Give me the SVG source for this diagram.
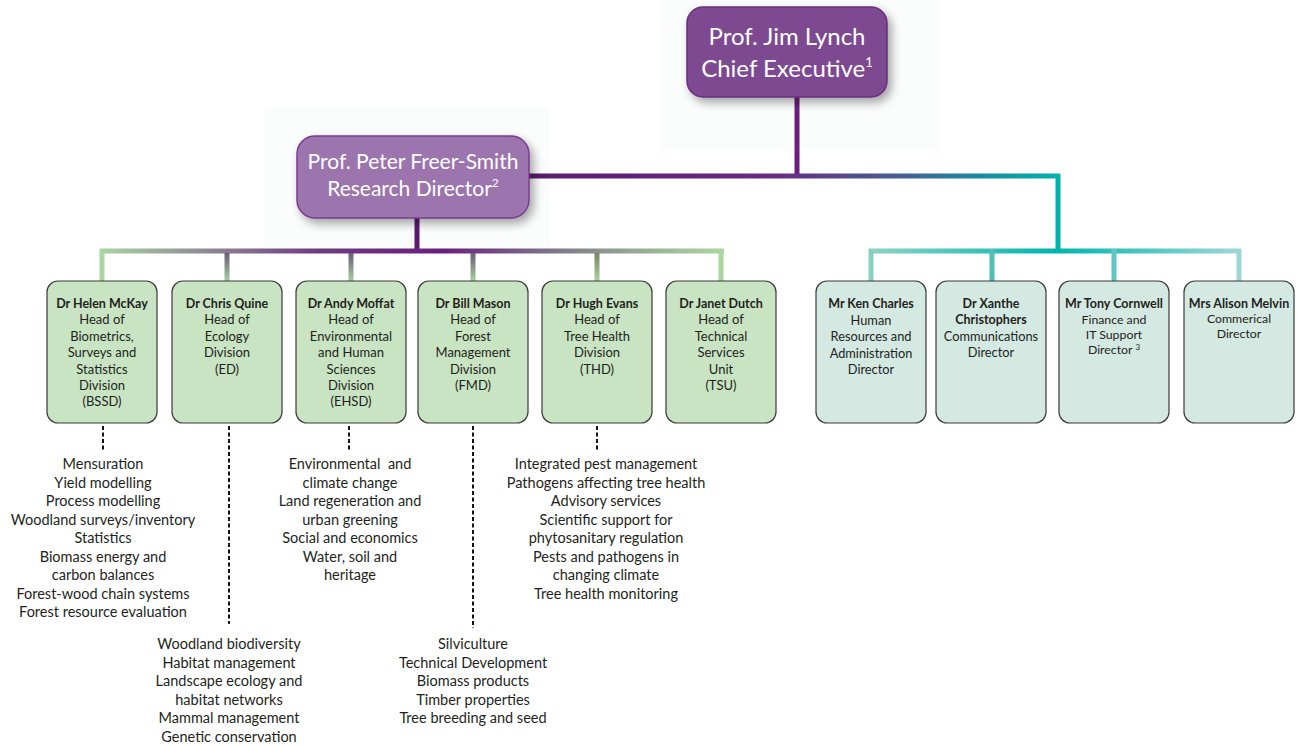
<svg xmlns="http://www.w3.org/2000/svg" width="1297" height="746" viewBox="0 0 1297 746">
<defs>
<style>
text{font-family:Lato,"Open Sans","Liberation Sans",sans-serif;text-anchor:middle;}
.exec{fill:#ffffff;font-size:24px;}
.rd{fill:#ffffff;font-size:21px;}
.gbox{fill:#c8e4c2;stroke:#3a3a3a;stroke-width:1.2;}
.tbox{fill:#d3e9e2;stroke:#3a3a3a;stroke-width:1.2;}
.nm{font-size:12.5px;font-weight:bold;fill:#231f20;}
.bt{font-size:13px;fill:#231f20;}
.st{font-size:12.8px;fill:#231f20;}
.sm{font-size:12.3px;fill:#231f20;}
.lst{font-size:14.5px;fill:#231f20;}
.dot{stroke:#111;stroke-width:2;stroke-dasharray:4 2.5;fill:none;}
.ln{stroke-width:5;fill:none;}
</style>
<filter id="sh" x="-20%" y="-20%" width="150%" height="160%">
<feDropShadow dx="4" dy="5" stdDeviation="5" flood-color="#000" flood-opacity="0.35"/>
</filter>
<linearGradient id="gTop" gradientUnits="userSpaceOnUse" x1="528" y1="0" x2="1060" y2="0">
<stop offset="0" stop-color="#5a1a6e"/><stop offset="0.45" stop-color="#6a2a82"/><stop offset="0.7" stop-color="#475f90"/><stop offset="0.85" stop-color="#1a8a9e"/><stop offset="1" stop-color="#00b3ab"/>
</linearGradient>
<linearGradient id="gGreen" gradientUnits="userSpaceOnUse" x1="100" y1="0" x2="724" y2="0">
<stop offset="0" stop-color="#a8d5a0"/><stop offset="0.2" stop-color="#8a7c92"/><stop offset="0.35" stop-color="#6e3a82"/><stop offset="0.55" stop-color="#6a1f7c"/><stop offset="0.7" stop-color="#7a6a88"/><stop offset="0.85" stop-color="#94a890"/><stop offset="1" stop-color="#abd6a0"/>
</linearGradient>
<linearGradient id="gTeal" gradientUnits="userSpaceOnUse" x1="869" y1="0" x2="1241" y2="0">
<stop offset="0" stop-color="#8fd3c5"/><stop offset="0.5" stop-color="#00b5ad"/><stop offset="1" stop-color="#a0d8d8"/>
</linearGradient>
<linearGradient id="dPurp" x1="0" y1="0" x2="0" y2="1">
<stop offset="0" stop-color="#6a5a78"/><stop offset="1" stop-color="#a8d5a0"/>
</linearGradient>
<linearGradient id="dOlive" x1="0" y1="0" x2="0" y2="1">
<stop offset="0" stop-color="#7a8560"/><stop offset="1" stop-color="#a8d5a0"/>
</linearGradient>
</defs>
<rect width="1297" height="746" fill="#ffffff"/>
<rect x="660" y="0" width="280" height="150" fill="#fbfcfc"/>
<rect x="265" y="107" width="285" height="140" fill="#fbfcfc"/>

<g id="connectors">
<path class="ln" d="M797 97 V177" stroke="#6a1f7f"/>
<path class="ln" d="M528 176 H1060" stroke="url(#gTop)"/>
<path class="ln" d="M1058 174 V252" stroke="#00b3ab"/>
<path class="ln" d="M417 218 V250" stroke="#5a1a6e"/>
<path class="ln" d="M100 251 H724" stroke="url(#gGreen)"/>
<path class="ln" d="M102 249 V282" stroke="#a8d5a0"/>
<rect x="224.5" y="253" width="5" height="29" fill="url(#dPurp)"/>
<rect x="348.5" y="253" width="5" height="29" fill="url(#dPurp)"/>
<rect x="470.5" y="253" width="5" height="29" fill="url(#dPurp)"/>
<rect x="594.5" y="253" width="5" height="29" fill="url(#dOlive)"/>
<path class="ln" d="M721 249 V282" stroke="#abd6a0"/>
<path class="ln" d="M869 251 H1241" stroke="url(#gTeal)"/>
<path class="ln" d="M871 249 V282" stroke="#86cfc3"/>
<path class="ln" d="M992 249 V282" stroke="#4fc0b8"/>
<path class="ln" d="M1114 249 V282" stroke="#62c6c6"/>
<path class="ln" d="M1239 249 V282" stroke="#9cd6d6"/>
<path class="dot" d="M103 426 V450"/>
<path class="dot" d="M229 426 V624"/>
<path class="dot" d="M349 426 V450"/>
<path class="dot" d="M473 426 V628"/>
<path class="dot" d="M597 426 V450"/>
</g>

<g id="ceo">
<rect x="687" y="7" width="200" height="90" rx="16" fill="#7d4a90" stroke="#6a2f80" stroke-width="1.5" filter="url(#sh)"/>
<text class="exec" x="787" y="45">Prof. Jim Lynch</text>
<text class="exec" x="787" y="77">Chief Executive<tspan font-size="13" dy="-10">1</tspan></text>
</g>

<g id="research-director">
<rect x="297" y="136" width="232" height="82" rx="18" fill="#9c75ae" stroke="#7a3a90" stroke-width="1.5" filter="url(#sh)"/>
<text class="rd" x="413" y="169">Prof. Peter Freer-Smith</text>
<text class="rd" x="413" y="196">Research Director<tspan font-size="12" dy="-9">2</tspan></text>
</g>

<g id="helen">
<rect class="gbox" x="47" y="281" width="110" height="142" rx="11"/>
<text class="nm" x="102" y="308">Dr Helen McKay</text>
<text class="bt" x="102" y="324">Head of</text>
<text class="bt" x="102" y="341">Biometrics,</text>
<text class="bt" x="102" y="357">Surveys and</text>
<text class="bt" x="102" y="374">Statistics</text>
<text class="bt" x="102" y="390">Division</text>
<text class="bt" x="102" y="406">(BSSD)</text>
</g>
<g id="chris">
<rect class="gbox" x="172" y="281" width="110" height="142" rx="11"/>
<text class="nm" x="227" y="308">Dr Chris Quine</text>
<text class="bt" x="227" y="324">Head of</text>
<text class="bt" x="227" y="341">Ecology</text>
<text class="bt" x="227" y="357">Division</text>
<text class="bt" x="227" y="374">(ED)</text>
</g>
<g id="andy">
<rect class="gbox" x="296" y="281" width="110" height="142" rx="11"/>
<text class="nm" x="351" y="308">Dr Andy Moffat</text>
<text class="bt" x="351" y="324">Head of</text>
<text class="bt" x="351" y="341">Environmental</text>
<text class="bt" x="351" y="357">and Human</text>
<text class="bt" x="351" y="374">Sciences</text>
<text class="bt" x="351" y="390">Division</text>
<text class="bt" x="351" y="406">(EHSD)</text>
</g>
<g id="bill">
<rect class="gbox" x="418" y="281" width="110" height="142" rx="11"/>
<text class="nm" x="473" y="308">Dr Bill Mason</text>
<text class="bt" x="473" y="324">Head of</text>
<text class="bt" x="473" y="341">Forest</text>
<text class="bt" x="473" y="357">Management</text>
<text class="bt" x="473" y="374">Division</text>
<text class="bt" x="473" y="390">(FMD)</text>
</g>
<g id="hugh">
<rect class="gbox" x="542" y="281" width="110" height="142" rx="11"/>
<text class="nm" x="597" y="308">Dr Hugh Evans</text>
<text class="bt" x="597" y="324">Head of</text>
<text class="bt" x="597" y="341">Tree Health</text>
<text class="bt" x="597" y="357">Division</text>
<text class="bt" x="597" y="374">(THD)</text>
</g>
<g id="janet">
<rect class="gbox" x="666" y="281" width="110" height="142" rx="11"/>
<text class="nm" x="721" y="308">Dr Janet Dutch</text>
<text class="bt" x="721" y="324">Head of</text>
<text class="bt" x="721" y="341">Technical</text>
<text class="bt" x="721" y="357">Services</text>
<text class="bt" x="721" y="374">Unit</text>
<text class="bt" x="721" y="390">(TSU)</text>
</g>

<g id="ken">
<rect class="tbox" x="816" y="281" width="110" height="142" rx="11"/>
<text class="nm" x="871" y="308">Mr Ken Charles</text>
<text class="st" x="871" y="325">Human</text>
<text class="st" x="871" y="341">Resources and</text>
<text class="st" x="871" y="358">Administration</text>
<text class="st" x="871" y="374">Director</text>
</g>
<g id="xanthe">
<rect class="tbox" x="936" y="281" width="110" height="142" rx="11"/>
<text class="nm" x="991" y="308">Dr Xanthe</text>
<text class="nm" x="991" y="324">Christophers</text>
<text class="st" x="991" y="341">Communications</text>
<text class="st" x="991" y="357">Director</text>
</g>
<g id="tony">
<rect class="tbox" x="1059" y="281" width="110" height="142" rx="11"/>
<text class="nm" x="1114" y="308">Mr Tony Cornwell</text>
<text class="sm" x="1114" y="324">Finance and</text>
<text class="sm" x="1114" y="339">IT Support</text>
<text class="sm" x="1114" y="354">Director <tspan font-size="8" dy="-4">3</tspan></text>
</g>
<g id="alison">
<rect class="tbox" x="1184" y="281" width="110" height="142" rx="11"/>
<text class="nm" x="1239" y="308">Mrs Alison Melvin</text>
<text class="sm" x="1239" y="323">Commerical</text>
<text class="sm" x="1239" y="338">Director</text>
</g>

<g id="list-bssd">
<text class="lst" x="103" y="469">Mensuration</text>
<text class="lst" x="103" y="487.5">Yield modelling</text>
<text class="lst" x="103" y="506">Process modelling</text>
<text class="lst" x="103" y="524.5">Woodland surveys/inventory</text>
<text class="lst" x="103" y="543">Statistics</text>
<text class="lst" x="103" y="561.5">Biomass energy and</text>
<text class="lst" x="103" y="580">carbon balances</text>
<text class="lst" x="103" y="598.5">Forest-wood chain systems</text>
<text class="lst" x="103" y="617">Forest resource evaluation</text>
</g>
<g id="list-ed">
<text class="lst" x="229" y="649">Woodland biodiversity</text>
<text class="lst" x="229" y="667.5">Habitat management</text>
<text class="lst" x="229" y="686">Landscape ecology and</text>
<text class="lst" x="229" y="704.5">habitat networks</text>
<text class="lst" x="229" y="723">Mammal management</text>
<text class="lst" x="229" y="741.5">Genetic conservation</text>
</g>
<g id="list-ehsd">
<text class="lst" x="350" y="469" xml:space="preserve">Environmental  and</text>
<text class="lst" x="350" y="487.5">climate change</text>
<text class="lst" x="350" y="506">Land regeneration and</text>
<text class="lst" x="350" y="524.5">urban greening</text>
<text class="lst" x="350" y="543">Social and economics</text>
<text class="lst" x="350" y="561.5">Water, soil and</text>
<text class="lst" x="350" y="580">heritage</text>
</g>
<g id="list-fmd">
<text class="lst" x="473" y="649">Silviculture</text>
<text class="lst" x="473" y="667.5">Technical Development</text>
<text class="lst" x="473" y="686">Biomass products</text>
<text class="lst" x="473" y="704.5">Timber properties</text>
<text class="lst" x="473" y="723">Tree breeding and seed</text>
</g>
<g id="list-thd">
<text class="lst" x="606" y="469">Integrated pest management</text>
<text class="lst" x="606" y="487.5">Pathogens affecting tree health</text>
<text class="lst" x="606" y="506">Advisory services</text>
<text class="lst" x="606" y="524.5">Scientific support for</text>
<text class="lst" x="606" y="543">phytosanitary regulation</text>
<text class="lst" x="606" y="561.5">Pests and pathogens in</text>
<text class="lst" x="606" y="580">changing climate</text>
<text class="lst" x="606" y="598.5">Tree health monitoring</text>
</g>
</svg>
